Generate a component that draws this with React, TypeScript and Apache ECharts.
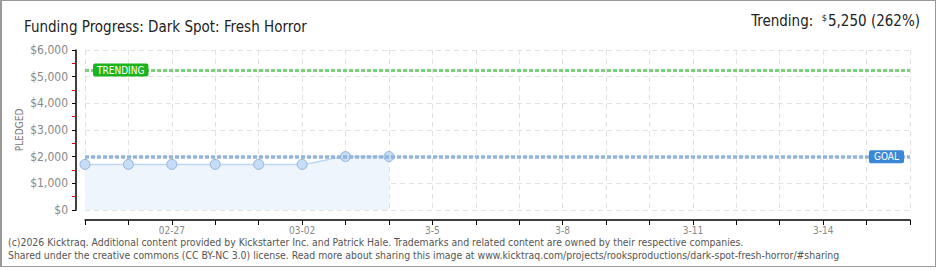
import React, { useEffect, useRef } from "react";
import * as echarts from "echarts";

const categories = ["02-25", "02-26", "02-27", "02-28", "03-01", "03-02", "03-03", "03-04", "3-5", "3-6", "3-7", "3-8", "3-9", "3-10", "3-11", "3-12", "3-13", "3-14", "3-15", "3-16"];
const labeledTicks = ["02-27", "03-02", "3-5", "3-8", "3-11", "3-14"];
const pledged = [1710, 1710, 1710, 1710, 1710, 1710, 2005, 2005];
const goal = 2000;
const trending = 5250;
const yTicks = [0, 1000, 2000, 3000, 4000, 5000, 6000];
const titleText = "Funding Progress: Dark Spot: Fresh Horror";
const trendingValue = "5,250 (262%)";
const footer1 = "(c)2026 Kicktraq. Additional content provided by Kickstarter Inc. and Patrick Hale. Trademarks and related content are owned by their respective companies.";
const footer2 = "Shared under the creative commons (CC BY-NC 3.0) license. Read more about sharing this image at www.kicktraq.com/projects/rooksproductions/dark-spot-fresh-horror/#sharing";

const FONT = '"DejaVu Sans Condensed", "Liberation Sans Narrow", "DejaVu Sans", sans-serif';

export default function App() {
  const ref = useRef<HTMLDivElement>(null);
  useEffect(() => {
    document.body.style.margin = "0";
    if (!ref.current) return;
    const chart = echarts.init(ref.current, null, { renderer: "svg" });
    chart.setOption({
      animation: false,
      textStyle: { fontFamily: FONT },
      grid: { left: 85, right: 30, top: 50, bottom: 60 },
      title: {
        text: titleText,
        left: 19,
        top: 14,
        textStyle: { fontFamily: FONT, fontSize: 15, fontWeight: "normal", color: "#222" },
      },
      graphic: [
        {
          type: "text",
          right: 20,
          top: 13,
          style: {
            text: "Trending:  {s|$}" + trendingValue,
            rich: { s: { fontSize: 9, verticalAlign: "top", padding: [0, 1, 6, 0], fontFamily: FONT, fill: "#222" } },
            font: "15px " + FONT,
            fill: "#222",
          },
        },
        {
          type: "text",
          left: 8,
          top: 237,
          style: { text: footer1, font: "10.4px " + FONT, fill: "#555" },
        },
        {
          type: "text",
          left: 8,
          top: 250,
          style: { text: footer2, font: "10.4px " + FONT, fill: "#555" },
        },
      ],
      xAxis: {
        type: "category",
        data: categories,
        boundaryGap: false,
        offset: 10,
        axisLine: { onZero: false, lineStyle: { color: "#000", width: 1.5 } },
        axisTick: { show: true, length: 5, lineStyle: { color: "#000" }, interval: 0 },
        axisLabel: {
          interval: (i: number, v: string) => labeledTicks.includes(v),
          color: "#888",
          fontSize: 10,
          margin: 5,
          fontFamily: FONT,
        },
        splitLine: { show: true, interval: 0, lineStyle: { color: "#e2e2e2", type: [5, 4] } },
      },
      yAxis: {
        type: "value",
        min: yTicks[0],
        max: yTicks[yTicks.length - 1],
        interval: 1000,
        offset: 9,
        name: "PLEDGED",
        nameLocation: "middle",
        nameGap: 52,
        nameMoveOverlap: false,
        nameTextStyle: { color: "#777", fontSize: 10, fontFamily: FONT },
        axisLine: { show: true, onZero: false, lineStyle: { color: "#000", width: 1.5 } },
        axisTick: { show: true, length: 4, lineStyle: { color: "#000" } },
        minorTick: { show: true, splitNumber: 2, length: 4, lineStyle: { color: "#e00000" } },
        axisLabel: {
          color: "#888",
          fontSize: 12,
          margin: 8,
          fontFamily: FONT,
          formatter: (v: number) => "$" + v.toLocaleString("en-US"),
        },
        splitLine: { show: true, lineStyle: { color: "#e2e2e2", type: [5, 4] } },
      },
      series: [
        {
          type: "line",
          data: pledged,
          symbol: "circle",
          symbolSize: 10,
          smooth: 0.2,
          lineStyle: { color: "#bcd6f3", width: 1.5 },
          itemStyle: { color: "#c6ddf7", borderColor: "#93b5dc", borderWidth: 1 },
          areaStyle: { color: "#eef5fd", opacity: 1 },
          z: 3,
          markLine: {
            silent: true,
            symbol: ["none", "none"],
            data: [
              {
                yAxis: trending,
                lineStyle: { color: "#7ccf7c", width: 3, type: [4, 2] },
                label: {
                  show: true,
                  position: "insideStart",
                  distance: [8, 0],
                  formatter: "TRENDING",
                  backgroundColor: "#1db31d",
                  color: "#fff",
                  fontSize: 10,
                  fontFamily: FONT,
                  padding: [2, 4, 1, 4],
                  borderRadius: 2,
                },
              },
              {
                yAxis: goal,
                lineStyle: { color: "#93b4dc", width: 3.5, type: [4, 2] },
                label: {
                  show: true,
                  position: "insideEnd",
                  distance: [6, 0],
                  formatter: "GOAL",
                  backgroundColor: "#3a87d6",
                  color: "#fff",
                  fontSize: 10,
                  fontFamily: FONT,
                  padding: [2, 5, 1, 5],
                  borderRadius: 2,
                },
              },
            ],
          },
        },
      ],
    });
    return () => chart.dispose();
  }, []);
  return (
    <div
      style={{
        position: "relative",
        width: 936,
        height: 267,
        boxSizing: "border-box",
        borderTop: "1px solid #999",
        borderBottom: "1px solid #999",
        borderRight: "1px solid #999",
        borderLeft: "2px solid #999",
        background: "#fff",
      }}
    >
      <div ref={ref} style={{ position: "absolute", left: -2, top: -1, width: 940, height: 270 }} />
    </div>
  );
}
